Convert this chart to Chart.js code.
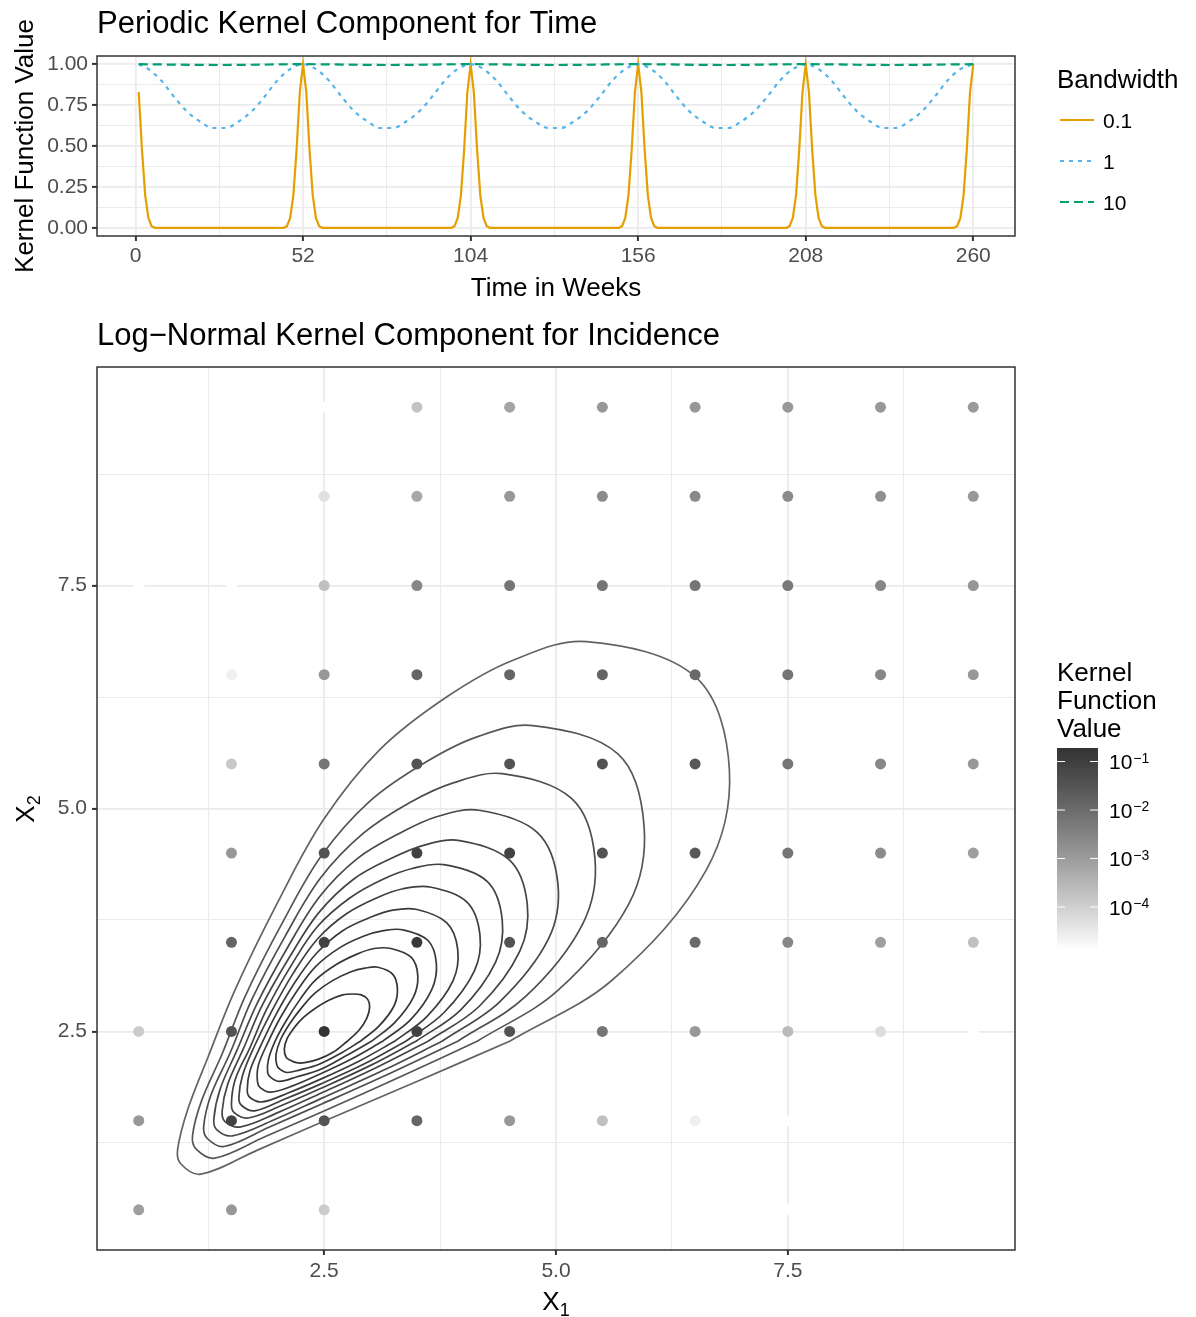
<!DOCTYPE html>
<html lang="en">
<head>
<meta charset="UTF-8" />
<title>Kernel Components</title>
<script src="https://cdn.jsdelivr.net/npm/chart.js"></script>
<style>
  body { margin: 0; background: #fff; }
  #wrap { position: relative; width: 1196px; height: 1317px; }
  canvas { position: absolute; left: 0; }
  #timeChart { top: 0; }
  #incChart { top: 305px; }
</style>
</head>
<body>
<div id="wrap">
  <canvas id="timeChart" width="1196" height="305"></canvas>
  <canvas id="incChart" width="1196" height="1012"></canvas>
</div>
<script>
// ---------- top panel: periodic kernel over time ----------
const bandwidths = ["0.1", "1", "10"];
const lineColors = ["#E69F00", "#56B4E9", "#009E73"];

// bandwidth 0.1 (sharp spikes at every 52 weeks)
const sharpWeeks = [1, 2, 3, 4, 5, 6,
  46, 47, 48, 49, 50, 51, 52, 53, 54, 55, 56, 57, 58,
  98, 99, 100, 101, 102, 103, 104, 105, 106, 107, 108, 109, 110,
  150, 151, 152, 153, 154, 155, 156, 157, 158, 159, 160, 161, 162,
  202, 203, 204, 205, 206, 207, 208, 209, 210, 211, 212, 213, 214,
  254, 255, 256, 257, 258, 259, 260];
const sharpValues = [0.83, 0.48, 0.2, 0.06, 0.01, 0,
  0, 0.01, 0.06, 0.2, 0.48, 0.83, 1, 0.83, 0.48, 0.2, 0.06, 0.01, 0,
  0, 0.01, 0.06, 0.2, 0.48, 0.83, 1, 0.83, 0.48, 0.2, 0.06, 0.01, 0,
  0, 0.01, 0.06, 0.2, 0.48, 0.83, 1, 0.83, 0.48, 0.2, 0.06, 0.01, 0,
  0, 0.01, 0.06, 0.2, 0.48, 0.83, 1, 0.83, 0.48, 0.2, 0.06, 0.01, 0,
  0, 0.01, 0.06, 0.2, 0.48, 0.83, 1];

// bandwidth 1
const mediumWeeks = [1, 4, 8, 12, 16, 20, 24, 28, 32, 36, 40, 44, 48, 52,
  56, 60, 64, 68, 72, 76, 80, 84, 88, 92, 96, 100, 104,
  108, 112, 116, 120, 124, 128, 132, 136, 140, 144, 148, 152, 156,
  160, 164, 168, 172, 176, 180, 184, 188, 192, 196, 200, 204, 208,
  212, 216, 220, 224, 228, 232, 236, 240, 244, 248, 252, 256, 260];
const mediumValues = [1, 0.97, 0.9, 0.8, 0.71, 0.65, 0.61, 0.61, 0.65, 0.71, 0.8, 0.9, 0.97, 1,
  0.97, 0.9, 0.8, 0.71, 0.65, 0.61, 0.61, 0.65, 0.71, 0.8, 0.9, 0.97, 1,
  0.97, 0.9, 0.8, 0.71, 0.65, 0.61, 0.61, 0.65, 0.71, 0.8, 0.9, 0.97, 1,
  0.97, 0.9, 0.8, 0.71, 0.65, 0.61, 0.61, 0.65, 0.71, 0.8, 0.9, 0.97, 1,
  0.97, 0.9, 0.8, 0.71, 0.65, 0.61, 0.61, 0.65, 0.71, 0.8, 0.9, 0.97, 1];

// bandwidth 10 (almost flat)
const wideWeeks = [1, 26, 52, 78, 104, 130, 156, 182, 208, 234, 260];
const wideValues = [1, 0.995, 1, 0.995, 1, 0.995, 1, 0.995, 1, 0.995, 1];

const weekBreaks = [0, 52, 104, 156, 208, 260];
const weekMinor = [26, 78, 130, 182, 234];
const valueBreaks = [0, 0.25, 0.5, 0.75, 1];
const valueMinor = [0.125, 0.375, 0.625, 0.875];

// ---------- bottom panel: log-normal kernel over incidence ----------
const x1Values = [0.5, 1.5, 2.5, 3.5, 4.5, 5.5, 6.5, 7.5, 8.5, 9.5];
const x2Values = [0.5, 1.5, 2.5, 3.5, 4.5, 5.5, 6.5, 7.5, 8.5, 9.5];
// one row per X2 value, bottom row first
const kernelGrid = [
  [8.5e-4, 1.2e-3, 1.2e-4, 1.3e-5, 1.3e-5, 1.3e-5, 1.3e-5, 1.3e-5, 1.3e-5, 1.3e-5],
  [1.2e-3, 8.3e-2, 3.5e-2, 1.4e-2, 1.2e-3, 2.0e-4, 2.6e-5, 1.3e-5, 1.3e-5, 1.3e-5],
  [1.2e-4, 3.5e-2, 0.19, 8.3e-2, 3.5e-2, 6.2e-3, 1.2e-3, 2.5e-4, 5.5e-5, 1.3e-5],
  [1.3e-5, 1.4e-2, 8.3e-2, 0.14, 3.5e-2, 1.4e-2, 1.1e-2, 2.7e-3, 8.5e-4, 2.0e-4],
  [1.3e-5, 1.2e-3, 3.5e-2, 8.3e-2, 8.3e-2, 3.5e-2, 2.6e-2, 6.2e-3, 2.2e-3, 8.5e-4],
  [1.3e-5, 1.4e-4, 6.2e-3, 3.5e-2, 3.5e-2, 3.5e-2, 2.6e-2, 6.2e-3, 2.7e-3, 1.2e-3],
  [1.3e-5, 2.4e-5, 1.2e-3, 1.4e-2, 1.4e-2, 1.4e-2, 1.1e-2, 6.2e-3, 2.7e-3, 1.2e-3],
  [1.3e-5, 1.3e-5, 2.0e-4, 2.7e-3, 6.2e-3, 6.2e-3, 6.2e-3, 5.2e-3, 2.7e-3, 1.4e-3],
  [1.3e-5, 1.3e-5, 4.8e-5, 5.9e-4, 1.2e-3, 2.2e-3, 2.4e-3, 2.2e-3, 1.8e-3, 1.2e-3],
  [1.3e-5, 1.3e-5, 1.3e-5, 1.7e-4, 6.8e-4, 1.2e-3, 1.2e-3, 1.2e-3, 1.2e-3, 1.1e-3]
];

// contour levels, outermost first, and the traced contour paths
const contourLevels = [0.015, 0.03, 0.045, 0.06, 0.075, 0.09, 0.105, 0.12, 0.135, 0.15, 0.165, 0.18];
const contourX = [
  [0.92, 1.03, 1.25, 1.54, 2.00, 2.49, 3.10, 3.82, 4.53, 5.33, 6.51, 6.87, 6.62, 5.61, 4.50, 3.50, 2.49, 1.78, 1.17, 0.95],
  [1.08, 1.18, 1.40, 1.65, 2.05, 2.47, 2.99, 3.58, 4.14, 4.75, 5.67, 5.95, 5.79, 5.02, 4.15, 3.34, 2.48, 1.86, 1.32, 1.12],
  [1.20, 1.28, 1.49, 1.72, 2.08, 2.46, 2.92, 3.43, 3.90, 4.42, 5.17, 5.42, 5.29, 4.67, 3.94, 3.23, 2.48, 1.91, 1.42, 1.24],
  [1.31, 1.38, 1.56, 1.78, 2.11, 2.45, 2.86, 3.31, 3.72, 4.17, 4.80, 5.02, 4.92, 4.39, 3.77, 3.15, 2.47, 1.96, 1.51, 1.34],
  [1.40, 1.46, 1.63, 1.83, 2.13, 2.44, 2.82, 3.22, 3.58, 3.96, 4.50, 4.69, 4.61, 4.17, 3.62, 3.07, 2.47, 2.00, 1.60, 1.43],
  [1.50, 1.54, 1.70, 1.88, 2.15, 2.43, 2.78, 3.14, 3.46, 3.79, 4.26, 4.42, 4.35, 3.97, 3.49, 3.00, 2.46, 2.04, 1.68, 1.53],
  [1.58, 1.62, 1.75, 1.93, 2.17, 2.43, 2.74, 3.07, 3.35, 3.64, 4.04, 4.18, 4.12, 3.79, 3.38, 2.94, 2.46, 2.07, 1.75, 1.61],
  [1.67, 1.70, 1.82, 1.98, 2.19, 2.42, 2.70, 3.00, 3.24, 3.49, 3.82, 3.94, 3.89, 3.61, 3.26, 2.88, 2.45, 2.11, 1.83, 1.70],
  [1.78, 1.79, 1.89, 2.03, 2.21, 2.41, 2.67, 2.93, 3.14, 3.35, 3.62, 3.71, 3.66, 3.43, 3.13, 2.81, 2.45, 2.16, 1.92, 1.81],
  [1.89, 1.90, 1.97, 2.09, 2.24, 2.40, 2.63, 2.86, 3.04, 3.22, 3.44, 3.51, 3.46, 3.26, 3.01, 2.74, 2.45, 2.20, 2.02, 1.93],
  [1.99, 1.98, 2.03, 2.13, 2.26, 2.40, 2.59, 2.79, 2.94, 3.08, 3.24, 3.29, 3.25, 3.09, 2.89, 2.67, 2.44, 2.24, 2.10, 2.02],
  [2.09, 2.07, 2.10, 2.19, 2.28, 2.39, 2.55, 2.70, 2.81, 2.90, 2.97, 2.99, 2.96, 2.88, 2.75, 2.60, 2.44, 2.29, 2.20, 2.13]
];
const contourY = [
  [1.18, 1.63, 2.22, 2.97, 3.95, 4.87, 5.66, 6.25, 6.66, 6.87, 6.47, 5.43, 4.31, 3.08, 2.39, 1.94, 1.49, 1.17, 0.90, 1.02],
  [1.33, 1.73, 2.25, 2.90, 3.72, 4.47, 5.08, 5.51, 5.80, 5.93, 5.61, 4.80, 3.94, 2.96, 2.39, 2.00, 1.60, 1.32, 1.08, 1.18],
  [1.43, 1.79, 2.27, 2.86, 3.57, 4.22, 4.72, 5.07, 5.29, 5.39, 5.11, 4.44, 3.71, 2.89, 2.39, 2.04, 1.69, 1.43, 1.21, 1.30],
  [1.52, 1.86, 2.29, 2.82, 3.45, 4.01, 4.44, 4.72, 4.91, 4.98, 4.73, 4.16, 3.54, 2.83, 2.39, 2.07, 1.75, 1.51, 1.33, 1.40],
  [1.61, 1.91, 2.31, 2.79, 3.34, 3.83, 4.21, 4.44, 4.59, 4.64, 4.42, 3.93, 3.40, 2.78, 2.39, 2.10, 1.81, 1.59, 1.43, 1.49],
  [1.69, 1.96, 2.32, 2.75, 3.25, 3.68, 4.00, 4.21, 4.33, 4.37, 4.18, 3.75, 3.28, 2.74, 2.39, 2.12, 1.86, 1.67, 1.53, 1.59],
  [1.76, 2.01, 2.34, 2.72, 3.16, 3.54, 3.82, 4.00, 4.10, 4.12, 3.95, 3.58, 3.18, 2.71, 2.39, 2.14, 1.91, 1.74, 1.61, 1.67],
  [1.84, 2.06, 2.35, 2.69, 3.06, 3.38, 3.63, 3.78, 3.86, 3.87, 3.72, 3.42, 3.07, 2.67, 2.39, 2.17, 1.96, 1.81, 1.71, 1.76],
  [1.94, 2.12, 2.37, 2.66, 2.96, 3.23, 3.44, 3.57, 3.63, 3.64, 3.52, 3.26, 2.97, 2.63, 2.39, 2.20, 2.02, 1.89, 1.82, 1.87],
  [2.04, 2.19, 2.39, 2.62, 2.86, 3.07, 3.25, 3.37, 3.43, 3.43, 3.33, 3.12, 2.88, 2.60, 2.39, 2.23, 2.07, 1.99, 1.94, 1.98],
  [2.12, 2.24, 2.41, 2.59, 2.77, 2.93, 3.07, 3.17, 3.21, 3.22, 3.14, 2.97, 2.78, 2.56, 2.39, 2.25, 2.13, 2.07, 2.04, 2.08],
  [2.21, 2.30, 2.42, 2.56, 2.66, 2.75, 2.85, 2.91, 2.92, 2.91, 2.86, 2.77, 2.65, 2.52, 2.39, 2.27, 2.19, 2.15, 2.15, 2.18]
];

const xBreaks = [2.5, 5, 7.5];
const xMinor = [1.25, 3.75, 6.25, 8.75];
const colourBreaks = [1e-1, 1e-2, 1e-3, 1e-4];

// ---------- helpers ----------
const FONT = '"Liberation Sans", Arial, Helvetica, sans-serif';
Chart.defaults.font.family = FONT;

const allValues = kernelGrid.flat().concat(contourLevels);
const logLo = Math.log10(Math.min(...allValues));
const logHi = Math.log10(Math.max(...allValues));

// white -> grey20 gradient, interpolated in lightness
function greyFor(v) {
  let f = (Math.log10(v) - logLo) / (logHi - logLo);
  f = Math.min(1, Math.max(0, f));
  const L = 100 - f * (100 - 21.25);
  const Y = Math.pow((L + 16) / 116, 3);
  const c = Y <= 0.0031308 ? 12.92 * Y : 1.055 * Math.pow(Y, 1 / 2.4) - 0.055;
  const g = Math.round(c * 255);
  return "rgb(" + g + "," + g + "," + g + ")";
}

function text(ctx, s, x, y, size, opt) {
  opt = opt || {};
  ctx.save();
  ctx.font = size + "px " + FONT;
  ctx.fillStyle = opt.color || "#000";
  ctx.textAlign = opt.align || "left";
  ctx.textBaseline = "alphabetic";
  if (opt.rotate) {
    ctx.translate(x, y);
    ctx.rotate(-Math.PI / 2);
    ctx.fillText(s, 0, 0);
  } else {
    ctx.fillText(s, x, y);
  }
  ctx.restore();
}

// "X" with a subscript, centred at (cx, base)
function subLabel(ctx, main, sub, cx, base, rotate) {
  ctx.save();
  ctx.font = "26px " + FONT;
  const w1 = ctx.measureText(main).width;
  ctx.font = "18px " + FONT;
  const w2 = ctx.measureText(sub).width;
  const total = w1 + w2;
  ctx.fillStyle = "#000";
  if (rotate) {
    ctx.translate(base, cx);
    ctx.rotate(-Math.PI / 2);
    ctx.font = "26px " + FONT;
    ctx.fillText(main, -total / 2, 0);
    ctx.font = "18px " + FONT;
    ctx.fillText(sub, -total / 2 + w1, 6);
  } else {
    ctx.font = "26px " + FONT;
    ctx.fillText(main, cx - total / 2, base);
    ctx.font = "18px " + FONT;
    ctx.fillText(sub, cx - total / 2 + w1, base + 6);
  }
  ctx.restore();
}

function gridAxis(min, max, major, minor, fmt, size, pad) {
  const isMajor = (c) => c.tick && major.includes(c.tick.value);
  return {
    type: "linear",
    min: min,
    max: max,
    afterBuildTicks: (axis) => {
      axis.ticks = major.concat(minor).sort((a, b) => a - b).map((v) => ({ value: v }));
    },
    afterFit: size,
    ticks: {
      autoSkip: false,
      maxRotation: 0,
      padding: pad,
      color: "#4d4d4d",
      font: { size: 21 },
      callback: (v) => (major.includes(v) ? fmt(v) : "")
    },
    grid: {
      color: "#ebebeb",
      lineWidth: (c) => (isMajor(c) ? 1.8 : 1),
      tickLength: 5,
      tickWidth: 2,
      tickColor: (c) => (isMajor(c) ? "#333333" : "rgba(0,0,0,0)")
    },
    border: { display: false }
  };
}

const panelFrame = {
  id: "panelFrame",
  afterDatasetsDraw(chart) {
    const { ctx, chartArea: a } = chart;
    ctx.save();
    ctx.strokeStyle = "#333333";
    ctx.lineWidth = 1.5;
    ctx.strokeRect(a.left, a.top, a.right - a.left, a.bottom - a.top);
    ctx.restore();
  }
};

function pairs(xs, ys) {
  return xs.map((x, i) => ({ x: x, y: ys[i] }));
}

// closed path that starts on the straight lower edge, so the spline seam hides there
function loop(xs, ys, start) {
  const pts = pairs(xs, ys);
  const out = pts.slice(start).concat(pts.slice(0, start));
  out.push(out[0]);
  return out;
}

// ---------- chart 1 ----------
const timeDecor = {
  id: "timeDecor",
  afterDraw(chart) {
    const ctx = chart.ctx;
    text(ctx, "Periodic Kernel Component for Time", 97, 33, 31);
    text(ctx, "Time in Weeks", 556, 296, 26, { align: "center" });
    text(ctx, "Kernel Function Value", 33, 146, 26, { align: "center", rotate: true });

    // legend
    text(ctx, "Bandwidth", 1057, 88, 26);
    const keyY = [120, 161, 202];
    const dashes = [[], [4, 5], [9, 5]];
    bandwidths.forEach((b, i) => {
      ctx.save();
      ctx.strokeStyle = lineColors[i];
      ctx.lineWidth = 2.2;
      ctx.setLineDash(dashes[i]);
      ctx.beginPath();
      ctx.moveTo(1060, keyY[i]);
      ctx.lineTo(1094, keyY[i]);
      ctx.stroke();
      ctx.restore();
      text(ctx, b, 1103, keyY[i] + 7.5, 21);
    });
  }
};

new Chart(document.getElementById("timeChart"), {
  type: "scatter",
  data: {
    datasets: [
      { label: bandwidths[0], data: pairs(sharpWeeks, sharpValues), borderColor: lineColors[0],
        showLine: true, borderWidth: 2.2, pointRadius: 0, tension: 0, order: 2 },
      { label: bandwidths[1], data: pairs(mediumWeeks, mediumValues), borderColor: lineColors[1],
        showLine: true, borderWidth: 2.2, pointRadius: 0, borderDash: [4, 5],
        cubicInterpolationMode: "monotone", order: 1 },
      { label: bandwidths[2], data: pairs(wideWeeks, wideValues), borderColor: lineColors[2],
        showLine: true, borderWidth: 2.2, pointRadius: 0, borderDash: [9, 5],
        cubicInterpolationMode: "monotone", order: 0 }
    ]
  },
  options: {
    responsive: false,
    animation: false,
    devicePixelRatio: 1,
    layout: { padding: { left: 0, right: 181, top: 56, bottom: 0 } },
    plugins: { legend: { display: false }, tooltip: { enabled: false } },
    scales: {
      x: gridAxis(-11.95, 272.95, weekBreaks, weekMinor, (v) => String(v), (s) => { s.height = 69; }, 3),
      y: gridAxis(-0.05, 1.05, valueBreaks, valueMinor, (v) => v.toFixed(2), (s) => { s.width = 97; }, 4)
    }
  },
  plugins: [panelFrame, timeDecor]
});

// ---------- chart 2 ----------
const gridPoints = [];
const gridColours = [];
x2Values.forEach((y, r) => {
  x1Values.forEach((x, c) => {
    gridPoints.push({ x: x, y: y });
    gridColours.push(greyFor(kernelGrid[r][c]));
  });
});

const contourSets = contourLevels.map((lv, i) => ({
  label: "level " + lv,
  data: loop(contourX[i], contourY[i], 14),
  showLine: true,
  borderColor: greyFor(lv),
  borderWidth: 1.7,
  pointRadius: 0,
  tension: 0.35,
  order: 1
}));

const OFF = 305;
const incDecor = {
  id: "incDecor",
  afterDraw(chart) {
    const ctx = chart.ctx;
    text(ctx, "Log\u2212Normal Kernel Component for Incidence", 97, 345 - OFF, 31);
    subLabel(ctx, "X", "1", 556, 1310 - OFF, false);
    subLabel(ctx, "X", "2", 809 - OFF, 34, true);

    // colour bar legend
    text(ctx, "Kernel", 1057, 681 - OFF, 26);
    text(ctx, "Function", 1057, 709 - OFF, 26);
    text(ctx, "Value", 1057, 737 - OFF, 26);
    const bl = 1057, br = 1098, bt = 748 - OFF, bb = 950 - OFF;
    for (let py = bt; py < bb; py++) {
      const lg = logHi - (py + 0.5 - bt) / (bb - bt) * (logHi - logLo);
      ctx.fillStyle = greyFor(Math.pow(10, lg));
      ctx.fillRect(bl, py, br - bl, 1);
    }
    colourBreaks.forEach((v) => {
      const y = bt + (logHi - Math.log10(v)) / (logHi - logLo) * (bb - bt);
      ctx.save();
      ctx.strokeStyle = "#ffffff";
      ctx.lineWidth = 1;
      ctx.beginPath();
      ctx.moveTo(bl, y); ctx.lineTo(bl + 8, y);
      ctx.moveTo(br - 8, y); ctx.lineTo(br, y);
      ctx.stroke();
      ctx.restore();
      const ex = Math.round(Math.log10(v));
      ctx.save();
      ctx.font = "21px " + FONT;
      const w = ctx.measureText("10").width;
      ctx.restore();
      text(ctx, "10", 1109, y + 7.5, 21);
      text(ctx, "\u2212" + Math.abs(ex), 1109 + w + 1, y + 1, 14);
    });
  }
};

new Chart(document.getElementById("incChart"), {
  type: "scatter",
  data: {
    datasets: contourSets.concat([{
      label: "kernel",
      data: gridPoints,
      pointRadius: 5.5,
      pointBorderWidth: 0,
      pointBackgroundColor: gridColours,
      showLine: false,
      order: 0
    }])
  },
  options: {
    responsive: false,
    animation: false,
    devicePixelRatio: 1,
    layout: { padding: { left: 0, right: 181, top: 62, bottom: 0 } },
    plugins: { legend: { display: false }, tooltip: { enabled: false } },
    scales: {
      x: gridAxis(0.05, 9.95, xBreaks, xMinor, (v) => v.toFixed(1), (s) => { s.height = 67; }, 4),
      y: gridAxis(0.05, 9.95, xBreaks, xMinor, (v) => v.toFixed(1), (s) => { s.width = 97; }, 5)
    }
  },
  plugins: [panelFrame, incDecor]
});
</script>
</body>
</html>
